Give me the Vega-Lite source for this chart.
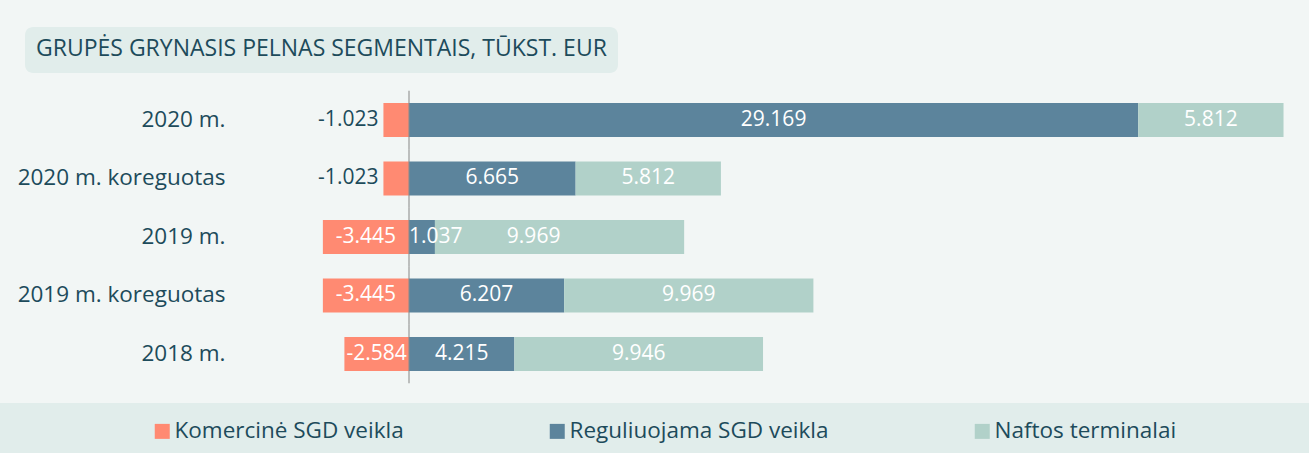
{
  "$schema": "https://vega.github.io/schema/vega-lite/v6.json",
  "width": 1309,
  "height": 403,
  "autosize": {"type": "none"},
  "padding": {"left": 0, "top": 0, "right": 0, "bottom": 50},
  "background": "#e1edeb",
  "config": {
    "view": {"fill": "#f2f6f5", "stroke": null},
    "font": "Open Sans",
    "locale": {"number": {"decimal": ",", "thousands": ".", "grouping": [3], "currency": ["", " €"], "minus": "-"}}
  },
  "data": {
    "values": [
      {"year": "2020 m.", "segment": "Komercinė SGD veikla", "ord": 1, "value": -1023},
      {"year": "2020 m.", "segment": "Reguliuojama SGD veikla", "ord": 2, "value": 29169},
      {"year": "2020 m.", "segment": "Naftos terminalai", "ord": 3, "value": 5812},
      {"year": "2020 m. koreguotas", "segment": "Komercinė SGD veikla", "ord": 1, "value": -1023},
      {"year": "2020 m. koreguotas", "segment": "Reguliuojama SGD veikla", "ord": 2, "value": 6665},
      {"year": "2020 m. koreguotas", "segment": "Naftos terminalai", "ord": 3, "value": 5812},
      {"year": "2019 m.", "segment": "Komercinė SGD veikla", "ord": 1, "value": -3445},
      {"year": "2019 m.", "segment": "Reguliuojama SGD veikla", "ord": 2, "value": 1037},
      {"year": "2019 m.", "segment": "Naftos terminalai", "ord": 3, "value": 9969},
      {"year": "2019 m. koreguotas", "segment": "Komercinė SGD veikla", "ord": 1, "value": -3445},
      {"year": "2019 m. koreguotas", "segment": "Reguliuojama SGD veikla", "ord": 2, "value": 6207},
      {"year": "2019 m. koreguotas", "segment": "Naftos terminalai", "ord": 3, "value": 9969},
      {"year": "2018 m.", "segment": "Komercinė SGD veikla", "ord": 1, "value": -2584},
      {"year": "2018 m.", "segment": "Reguliuojama SGD veikla", "ord": 2, "value": 4215},
      {"year": "2018 m.", "segment": "Naftos terminalai", "ord": 3, "value": 9946}
    ]
  },
  "encoding": {
    "y": {
      "field": "year",
      "type": "nominal",
      "sort": null,
      "scale": {"paddingInner": 0.111, "paddingOuter": 1, "align": 0.8034},
      "axis": {
        "title": null,
        "orient": "left",
        "offset": -230,
        "domain": false,
        "ticks": false,
        "labelPadding": 5,
        "labelFontSize": 22.5,
        "labelColor": "#1d4b5b",
        "labelFont": "Open Sans",
        "labelLimit": 400
      }
    }
  },
  "layer": [
    {
      "mark": {"type": "bar", "height": {"band": 0.654}},
      "encoding": {
        "x": {
          "field": "value",
          "type": "quantitative",
          "stack": "zero",
          "scale": {"domain": [-16360, 36000], "nice": false, "zero": false},
          "axis": null
        },
        "order": {"field": "ord", "type": "quantitative"},
        "color": {
          "field": "segment",
          "type": "nominal",
          "sort": ["Komercinė SGD veikla", "Reguliuojama SGD veikla", "Naftos terminalai"],
          "scale": {
            "domain": ["Komercinė SGD veikla", "Reguliuojama SGD veikla", "Naftos terminalai"],
            "range": ["#ff8a72", "#5c849c", "#b1d1c9"]
          },
          "legend": {
            "title": null,
            "orient": "none",
            "legendX": 151,
            "legendY": 420,
            "direction": "horizontal",
            "symbolType": "square",
            "symbolSize": 225,
            "symbolStrokeWidth": 0,
            "labelFontSize": 22.5,
            "labelColor": "#1d4b5b",
            "labelFont": "Open Sans",
            "labelOffset": 1,
            "labelLimit": 400,
            "columnPadding": 142
          }
        },
        "opacity": {
          "field": "value",
          "type": "quantitative",
          "scale": {"range": [1, 1]},
          "legend": {
            "title": "GRUPĖS GRYNASIS PELNAS SEGMENTAIS, TŪKST. EUR",
            "values": [0],
            "orient": "none",
            "legendX": 25,
            "legendY": 27,
            "fillColor": "#e1edeb",
            "cornerRadius": 8,
            "padding": 11,
            "titleFontSize": 23,
            "titleFontWeight": "normal",
            "titleColor": "#1d4b5b",
            "titleFont": "Open Sans",
            "titlePadding": 0,
            "titleLimit": 900,
            "symbolSize": 0,
            "symbolOpacity": 0,
            "symbolStrokeWidth": 0,
            "labelExpr": "''",
            "labelFontSize": 1,
            "labelOpacity": 0,
            "labelOffset": 0
          }
        }
      }
    },
    {
      "transform": [{"filter": "datum.segment === 'Naftos terminalai'"}],
      "mark": {"type": "tick", "size": 58.5, "thickness": 1.5, "color": "#8c8c8c"},
      "encoding": {
        "x": {"datum": 0, "type": "quantitative"}
      }
    },
    {
      "transform": [{"filter": "datum.value <= -2000 || datum.value >= 2000"}],
      "mark": {"type": "text", "color": "white", "fontSize": 21, "font": "Open Sans", "baseline": "middle"},
      "encoding": {
        "x": {"field": "value", "type": "quantitative", "stack": "zero", "bandPosition": 0.5},
        "order": {"field": "ord", "type": "quantitative"},
        "detail": {"field": "segment", "type": "nominal"},
        "text": {"field": "value", "type": "quantitative", "format": ","}
      }
    },
    {
      "transform": [{"filter": "datum.value > 0 && datum.value < 2000"}],
      "mark": {"type": "text", "color": "white", "fontSize": 21, "font": "Open Sans", "baseline": "middle", "align": "left", "dx": 0},
      "encoding": {
        "x": {"field": "value", "type": "quantitative", "stack": "zero", "bandPosition": 0},
        "order": {"field": "ord", "type": "quantitative"},
        "detail": {"field": "segment", "type": "nominal"},
        "text": {"field": "value", "type": "quantitative", "format": ","}
      }
    },
    {
      "transform": [{"filter": "datum.value > -2000 && datum.value < 0"}],
      "mark": {"type": "text", "color": "#1d4b5b", "fontSize": 21, "font": "Open Sans", "baseline": "middle", "align": "right", "dx": -5},
      "encoding": {
        "x": {"field": "value", "type": "quantitative"},
        "text": {"field": "value", "type": "quantitative", "format": ","}
      }
    }
  ]
}
